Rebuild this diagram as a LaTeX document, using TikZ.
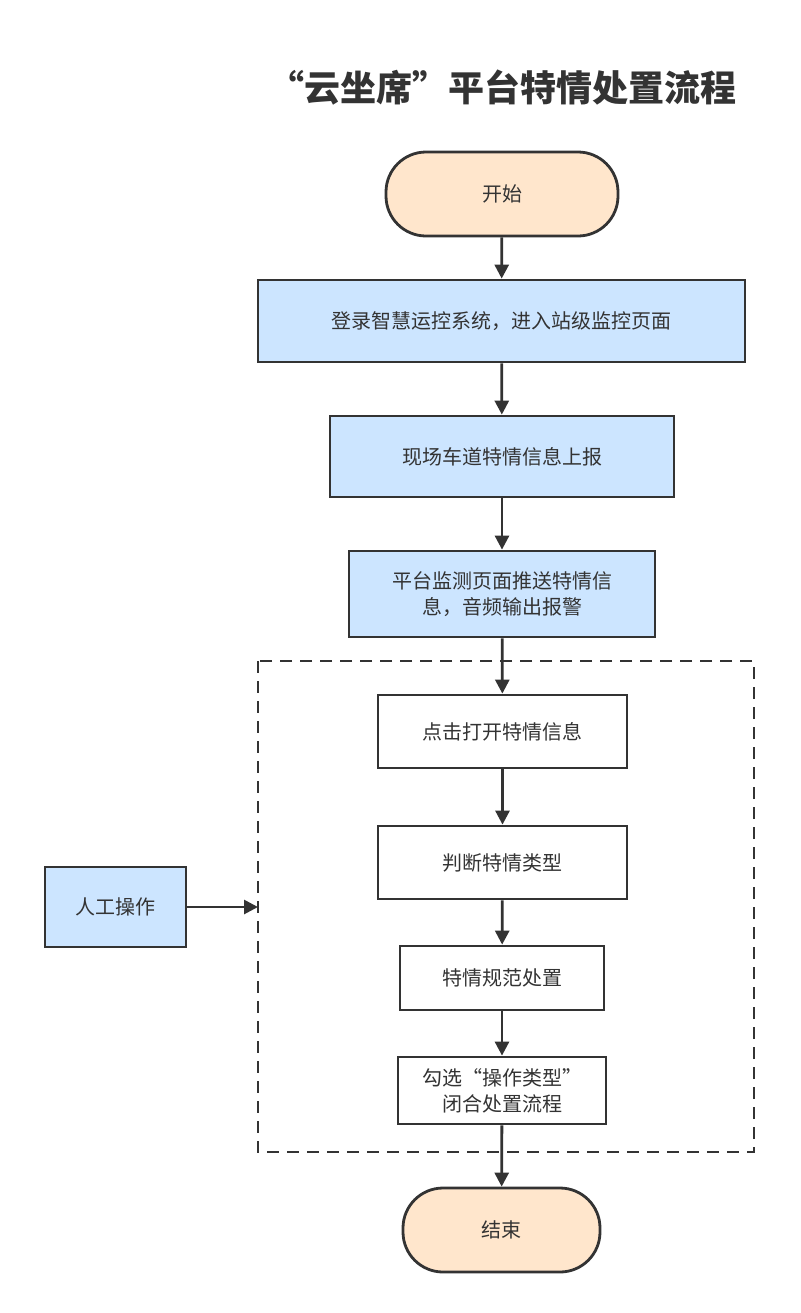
\documentclass[tikz,border=0pt]{standalone}
\usepackage{fontspec}
\setmainfont{Noto Sans CJK SC}
\usetikzlibrary{arrows.meta}
\definecolor{peach}{HTML}{FFE6CC}
\definecolor{lblue}{HTML}{CCE5FF}
\definecolor{edge}{HTML}{333333}
\begin{document}
\begin{tikzpicture}[x=0.5pt,y=-0.5pt,
  box/.style={draw=edge, line width=1.4pt, fill=lblue, font=\fontsize{10}{13}\selectfont, text=edge, align=center, inner sep=0pt},
  term/.style={box, fill=peach, rounded corners=20pt},
  plain/.style={box, fill=white},
  arr/.style={-{Triangle[length=7pt,width=7pt]}, draw=edge, line width=1.4pt}]
\useasboundingbox (0,0) rectangle (800,1313);
\node[font=\bfseries\fontsize{18}{20}\selectfont, text=edge] (title) at (502,88) {“云坐席”平台特情处置流程};
\node[term, minimum width=116pt, minimum height=42pt] (start) at (502,194) {开始};
\node[box, minimum width=243.5pt, minimum height=41pt] (login) at (501.5,321) {登录智慧运控系统，进入站级监控页面};
\node[box, minimum width=172pt, minimum height=40.5pt] (report) at (502,456.5) {现场车道特情信息上报};
\node[box, minimum width=153pt, minimum height=43pt] (push) at (502,594) {平台监测页面推送特情信\\息，音频输出报警};
\draw[edge, line width=1.2pt, dash pattern=on 6pt off 4pt] (258,661) rectangle (754,1152);
\node[plain, minimum width=124.5pt, minimum height=36.5pt] (open) at (502.5,731.5) {点击打开特情信息};
\node[plain, minimum width=124.5pt, minimum height=36.5pt] (judge) at (502.5,862.5) {判断特情类型};
\node[plain, minimum width=102pt, minimum height=32pt] (handle) at (502,978) {特情规范处置};
\node[plain, minimum width=104pt, minimum height=33.5pt] (check) at (502,1090.5) {勾选“操作类型”\\闭合处置流程};
\node[term, minimum width=98.5pt, minimum height=42pt] (end) at (501.5,1230) {结束};
\node[box, minimum width=70.5pt, minimum height=40pt] (manual) at (115.5,907) {人工操作};
\coordinate (frame) at (258,907);
\draw[arr] (start) -- (login);
\draw[arr] (login) -- (report);
\draw[arr] (report) -- (push);
\draw[arr] (push) -- (open);
\draw[arr] (open) -- (judge);
\draw[arr] (judge) -- (handle);
\draw[arr] (handle) -- (check);
\draw[arr] (check) -- (end);
\draw[arr] (manual) -- (frame);
\end{tikzpicture}
\end{document}
